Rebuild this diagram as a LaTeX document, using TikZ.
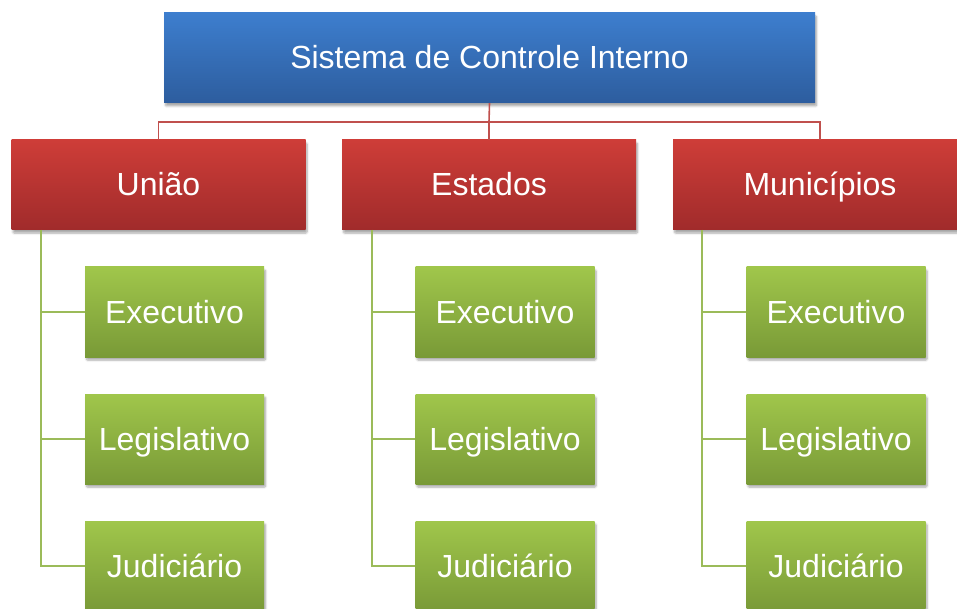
\documentclass[tikz,border=0pt]{standalone}
\usepackage{fontspec}
\setmainfont{Liberation Sans}
\usetikzlibrary{shadows.blur}
\definecolor{bluetop}{HTML}{3D7ECE}
\definecolor{bluebot}{HTML}{2D5D9E}
\definecolor{redtop}{HTML}{CE3D38}
\definecolor{redbot}{HTML}{A02B2B}
\definecolor{greentop}{HTML}{A0C64B}
\definecolor{greenbot}{HTML}{799A37}
\definecolor{redln}{HTML}{C0504D}
\definecolor{greenln}{HTML}{9BBB59}
\tikzset{
  boxbase/.style={inner sep=0pt, text=white, font=\fontsize{32}{38}\selectfont,
    text height=22pt, text depth=0pt,
    blur shadow={shadow blur steps=6, shadow xshift=1.5pt, shadow yshift=-3pt, shadow opacity=35, shadow blur extra rounding=1pt}},
  topbox/.style={boxbase, minimum width=651pt, minimum height=90pt, top color=bluetop, bottom color=bluebot},
  redbox/.style={boxbase, minimum width=294pt, minimum height=90pt, top color=redtop, bottom color=redbot},
  greenbox/.style={boxbase, minimum width=179pt, minimum height=90pt, top color=greentop, bottom color=greenbot},
  redconn/.style={draw=redln, line width=1.6pt},
  greenconn/.style={draw=greenln, line width=1.8pt},
}
\begin{document}
\begin{tikzpicture}[x=1pt,y=1pt]
\useasboundingbox (0,0) rectangle (957,-609);
% connector points
\coordinate (bus) at (489,-122);
\coordinate (busl) at (158.5,-122);
\coordinate (busr) at (820,-122);
\coordinate (gu) at (41,-230);
\coordinate (ge) at (372,-230);
\coordinate (gm) at (702,-230);
% boxes
\node[topbox] (top) at (489.5,-58) {Sistema de Controle Interno};
\node[redbox] (uniao) at (158.5,-185) {União};
\node[redbox] (est) at (489,-185) {Estados};
\node[redbox] (mun) at (820,-185) {Municípios};
\foreach \n/\cx in {u/174.5, e/505, m/836}{
  \node[greenbox] (\n1) at (\cx,-312) {Executivo};
  \node[greenbox] (\n2) at (\cx,-439) {Legislativo};
  \node[greenbox] (\n3) at (\cx,-566) {Judiciário};
}
\draw[redconn] (top.south) -- (bus);
\draw[redconn] (uniao.north) -- (busl) -- (busr) -- (mun.north);
\draw[redconn] (bus) -- (est.north);
\foreach \n in {u,e,m}{
  \draw[greenconn] (g\n) |- (\n3.west);
  \draw[greenconn] (g\n) |- (\n2.west);
  \draw[greenconn] (g\n) |- (\n1.west);
}
\end{tikzpicture}
\end{document}
